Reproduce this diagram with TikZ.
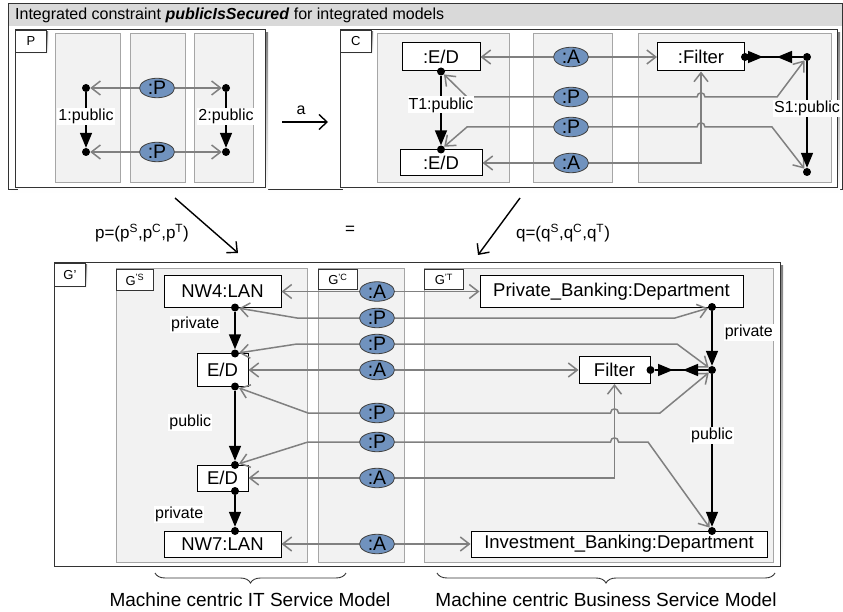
\documentclass[tikz,border=0pt]{standalone}
\usepackage{fontspec}
\setmainfont{Liberation Sans}
\usetikzlibrary{arrows.meta,shapes.geometric,decorations.pathreplacing}
\definecolor{barfill}{HTML}{D9D9D9}
\definecolor{lanefill}{HTML}{F2F2F2}
\definecolor{laneline}{HTML}{A6A6A6}
\definecolor{rolefill}{HTML}{7092BE}
\definecolor{linkcol}{HTML}{808080}
\definecolor{shade}{HTML}{C4C4C4}
\newcommand{\fsz}[1]{\fontsize{#1}{#1}\selectfont}
\begin{document}
\begin{tikzpicture}[x=1pt,y=-1pt,
  lane/.style={draw=laneline, fill=lanefill, line width=1pt},
  panel/.style={draw=black!80, fill=white, line width=1pt},
  tabbox/.style={draw=black!80, fill=white, line width=0.8pt, inner sep=0pt, font=\fsz{13}, anchor=north west},
  obj/.style={draw=black, fill=white, line width=1pt, inner sep=0pt, font=\fsz{18.5}},
  role/.style={ellipse, draw=black!75, fill=rolefill, line width=0.8pt, minimum width=35pt, minimum height=19.5pt, inner sep=0pt, font=\fsz{19.5}},
  jdot/.style={circle, fill=black, inner sep=0pt, minimum size=8pt},
  conn/.style={draw=linkcol, line width=1.5pt, -{Straight Barb[length=9pt,width=14pt]}},
  flow/.style={draw=black, line width=1.6pt, -{Triangle[length=15pt,width=12pt]}},
  elabel/.style={fill=white, inner sep=1pt, font=\fsz{16}},
  mapto/.style={draw=black, line width=1.4pt, -{Straight Barb[length=8pt,width=15pt]}},
  bracefit/.style={draw=black!80, line width=0.9pt, decorate, decoration={brace, mirror, amplitude=10pt}},
]
\useasboundingbox (0,0) rectangle (843,612);

% ---------- outer constraint frame ----------
\fill[shade] (11,7) rectangle (845,193);
\draw[panel] (8,4) rectangle (842,190);
\fill[barfill] (8.5,4.5) rectangle (841.5,26);
\draw[draw=black!80, line width=1pt] (8,4) rectangle (842,190);
\node[anchor=west, font=\fsz{16}, inner sep=0pt] (title) at (15,15)
  {Integrated constraint \textbf{\textit{publicIsSecured}} for integrated models};

% ---------- premise P ----------
\fill[shade] (18,33) rectangle (268,191);
\draw[panel] (15,30) rectangle (265,188);
\draw[lane] (55,34) rectangle (120,183);
\draw[lane] (130,34) rectangle (185,183);
\draw[lane] (194,34) rectangle (253,183);
\fill[shade] (17,32) rectangle (48,54);
\node[tabbox, minimum width=31pt, minimum height=22pt] (tabP) at (15,30) {P};

\node[jdot] (p1) at (86,88) {};
\node[jdot] (p2) at (86,152) {};
\node[jdot] (p3) at (226,88) {};
\node[jdot] (p4) at (226,152) {};
\node[role] (pr1) at (157,88) {:P};
\node[role] (pr2) at (157,152) {:P};
\draw[conn] (pr1) -- (p1);
\draw[conn] (pr1) -- (p3);
\draw[conn] (pr2) -- (p2);
\draw[conn] (pr2) -- (p4);
\draw[flow] (p1) -- node[elabel, pos=0.43] (l1) {1:public} (p2);
\draw[flow] (p3) -- node[elabel, pos=0.43] (l2) {2:public} (p4);

% ---------- morphism a ----------
\coordinate (a0) at (282,122);
\coordinate (a1) at (328,122);
\draw[mapto] (a0) -- (a1);
\node[font=\fsz{16}] (alab) at (301,110) {a};

% ---------- conclusion C ----------
\fill[shade] (343,33) rectangle (840,191);
\draw[panel] (340,30) rectangle (837,188);
\draw[lane] (377,34) rectangle (509,183);
\draw[lane] (533,34) rectangle (612,183);
\draw[lane] (638,34) rectangle (831,183);
\fill[shade] (342,32) rectangle (373,54);
\node[tabbox, minimum width=31pt, minimum height=22pt] (tabC) at (340,30) {C};

\node[obj, minimum width=78pt, minimum height=28pt] (ced1) at (441,57) {:E/D};
\node[obj, minimum width=82pt, minimum height=26pt] (ced2) at (441,163) {:E/D};
\node[obj, minimum width=87pt, minimum height=28pt] (cfil) at (701,57) {:Filter};
\node[jdot] (c1) at (ced1.south) {};
\node[jdot] (c2) at (ced2.north) {};
\node[jdot] (c3) at (cfil.east) {};
\node[jdot] (c4) at (807,57) {};
\node[jdot] (c5) at (807,172) {};
\node[role] (ca1) at (571,57) {:A};
\node[role] (cp1) at (571,97) {:P};
\node[role] (cp2) at (571,127) {:P};
\node[role] (ca2) at (571,163) {:A};

\draw[conn] (ca1) -- (ced1);
\draw[conn] (ca1) -- (cfil);
\draw[conn] (cp1.west) -- (467,97) -- (c1);
\draw[conn] (cp1.east) -- (697,97) .. controls (697,91.5) and (705,91.5) .. (705,97) -- (777,97) -- (c4);
\draw[conn] (cp2.west) -- (467,127) -- (c2);
\draw[conn] (cp2.east) -- (697,127) .. controls (697,121.5) and (705,121.5) .. (705,127) -- (772,127) -- (c5);
\draw[conn] (ca2) -- (ced2);
\draw[conn] (ca2.east) -- (ca2.east -| cfil.south) -- (cfil.south);

\draw[flow] (c1) -- node[elabel, pos=0.42] (l3) {T1:public} (c2);
\draw[flow] (c4) -- node[elabel, pos=0.44] (l4) {S1:public} (c5);
\draw[line width=1.6pt] (c3) -- (c4);
\coordinate (cm1) at (763,57);
\coordinate (cm2) at (777,57);
\draw[flow] (c3) -- (cm1);
\draw[flow] (c4) -- (cm2);

% ---------- morphisms p and q ----------
\coordinate (pa0) at (175,198);
\coordinate (pa1) at (238,253);
\draw[mapto] (pa0) -- (pa1);
\node[font=\fsz{17}] (plab) at (142,233) {p=(p\textsuperscript{S},p\textsuperscript{C},p\textsuperscript{T})};
\node[font=\fsz{17}] (eqlab) at (350,230) {=};
\coordinate (qa0) at (520,198);
\coordinate (qa1) at (478,255);
\draw[mapto] (qa0) -- (qa1);
\node[font=\fsz{17}] (qlab) at (563,233) {q=(q\textsuperscript{S},q\textsuperscript{C},q\textsuperscript{T})};

% ---------- integrated model G' ----------
\fill[shade] (57,266) rectangle (783,569);
\draw[panel] (54,263) rectangle (780,566);
\draw[lane] (116,269) rectangle (307,562);
\draw[lane] (318,269) rectangle (404,562);
\draw[lane] (424,269) rectangle (773,562);
\fill[shade] (56,265) rectangle (87,288);
\node[tabbox, minimum width=31pt, minimum height=23pt] (tabG) at (54,263) {G'};
\node[tabbox, minimum width=37pt, minimum height=21pt] (tabGS) at (116,269) {G\textsuperscript{'S}};
\node[tabbox, minimum width=39pt, minimum height=20pt] (tabGC) at (318,269) {G\textsuperscript{'C}};
\node[tabbox, minimum width=39pt, minimum height=20pt] (tabGT) at (424,269) {G\textsuperscript{'T}};

\node[obj, minimum width=117pt, minimum height=32pt] (nw4) at (222.5,291.5) {NW4:LAN};
\node[obj, minimum width=51pt, minimum height=33pt] (eda) at (222.5,370) {E/D};
\node[obj, minimum width=51pt, minimum height=26pt] (edb) at (222.5,478) {E/D};
\node[obj, minimum width=117pt, minimum height=26pt] (nw7) at (222.5,544) {NW7:LAN};
\node[obj, minimum width=263pt, minimum height=31pt] (priv) at (611.5,291.5) {Private\_Banking:Department};
\node[obj, minimum width=71pt, minimum height=27pt] (gfil) at (614.5,370) {Filter};
\node[obj, minimum width=296pt, minimum height=26pt] (inv) at (619,544) {Investment\_Banking:Department};

\node[jdot] (g1) at (235,307.5) {};
\node[jdot] (g2) at (235,353.5) {};
\node[jdot] (g3) at (235,386.5) {};
\node[jdot] (g4) at (235,465) {};
\node[jdot] (g5) at (235,491) {};
\node[jdot] (g6) at (235,531) {};
\node[jdot] (h1) at (712,307) {};
\node[jdot] (h2) at (gfil.east) {};
\node[jdot] (h3) at (712,370) {};
\node[jdot] (h4) at (712,531) {};

\node[role] (ga1) at (377,291.5) {:A};
\node[role] (gp1) at (377,318) {:P};
\node[role] (gp2) at (377,344) {:P};
\node[role] (ga2) at (377,370) {:A};
\node[role] (gp3) at (377,413) {:P};
\node[role] (gp4) at (377,442) {:P};
\node[role] (ga3) at (377,478) {:A};
\node[role] (ga4) at (377,544) {:A};

% links into the IT side
\draw[conn] (ga1) -- (nw4);
\draw[conn] (gp1.west) -- (297,318) -- (g1);
\draw[conn] (gp2.west) -- (297,344) -- (g2);
\draw[conn] (ga2) -- (eda);
\draw[conn] (gp3.west) -- (308,413) -- (g3);
\draw[conn] (gp4.west) -- (308,442) -- (g4);
\draw[conn] (ga3) -- (edb);
\draw[conn] (ga4) -- (nw7);

% links into the business side
\draw[conn] (ga1) -- (priv);
\draw[conn] (gp1.east) -- (675,318) -- (h1);
\draw[conn] (gp2.east) -- (677,344) -- (h3);
\draw[conn] (ga2) -- (gfil);
\draw[conn] (gp3.east) -- (610.5,413) .. controls (610.5,407.5) and (618.5,407.5) .. (618.5,413) -- (660,413) -- (h3);
\draw[conn] (gp4.east) -- (610.5,442) .. controls (610.5,436.5) and (618.5,436.5) .. (618.5,442) -- (648,442) -- (h4);
\draw[conn] (ga3.east) -- (ga3.east -| gfil.south) -- (gfil.south);
\draw[conn] (ga4) -- (inv);

% data flows
\draw[flow] (g1) -- node[elabel, pos=0.34, left=14pt] (l5) {private} (g2);
\draw[flow] (g3) -- node[elabel, pos=0.45, left=22pt] (l6) {public} (g4);
\draw[flow] (g5) -- node[elabel, pos=0.6, left=30pt] (l7) {private} (g6);
\draw[flow] (h1) -- node[elabel, pos=0.39, right=11pt] (l8) {private} (h3);
\draw[flow] (h3) -- node[elabel, pos=0.4] (l9) {public} (h4);
\draw[line width=1.6pt] (h2) -- (h3);
\coordinate (gm1) at (673,370);
\coordinate (gm2) at (683,370);
\draw[flow] (h2) -- (gm1);
\draw[flow] (h3) -- (gm2);

% ---------- model braces ----------
\coordinate (b1) at (155,573);
\coordinate (b2) at (346,573);
\coordinate (b3) at (437,573);
\coordinate (b4) at (775,573);
\draw[bracefit] (b1) -- (b2);
\draw[bracefit] (b3) -- (b4);
\node[font=\fsz{19}] (itm) at (250,600) {Machine centric IT Service Model};
\node[font=\fsz{19}] (bsm) at (606,600) {Machine centric Business Service Model};
\end{tikzpicture}
\end{document}
